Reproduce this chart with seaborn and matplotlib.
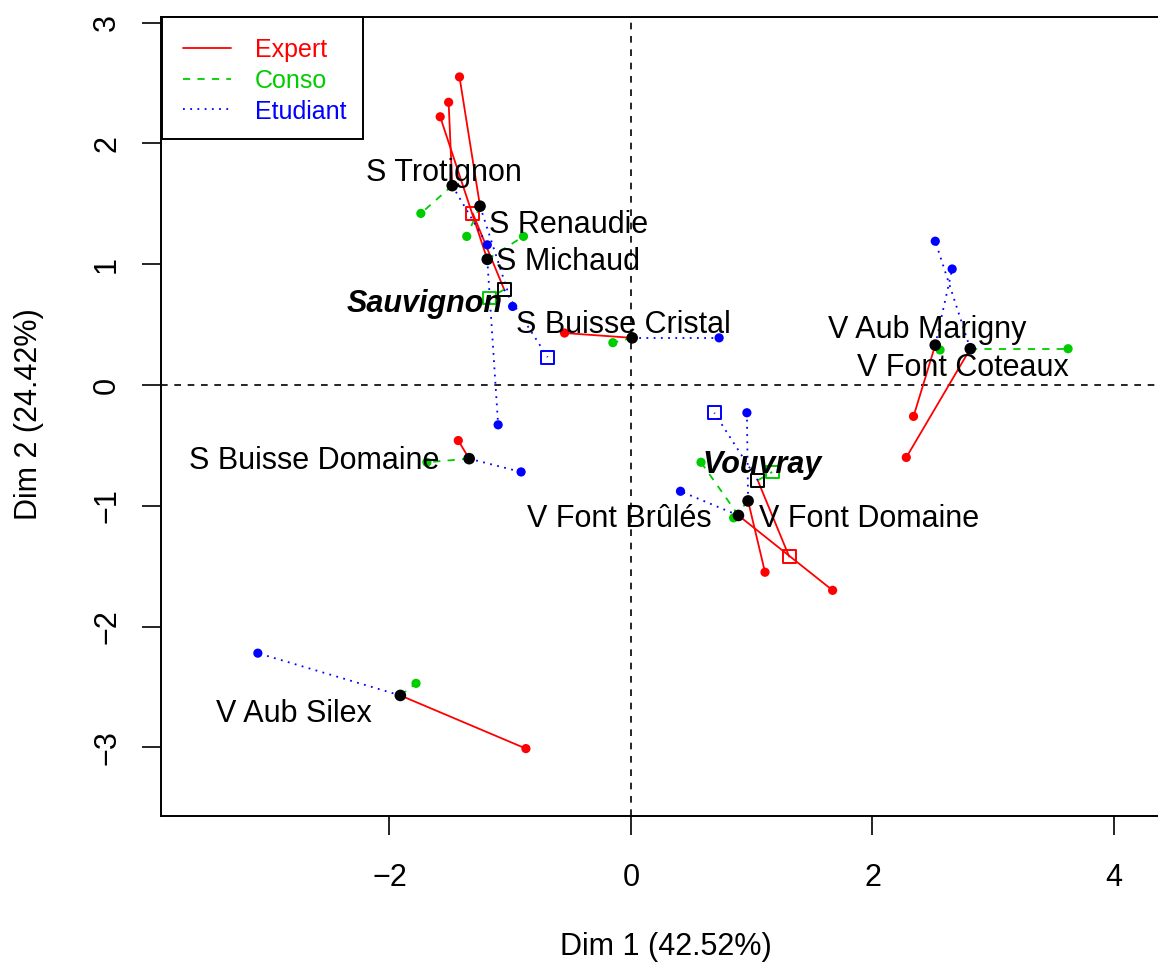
import numpy as np
import pandas as pd
import matplotlib
matplotlib.use("Agg")
import matplotlib.pyplot as plt
import seaborn as sns
from matplotlib.lines import Line2D
from matplotlib.patches import Rectangle

# ---------------- data ----------------
wines = ["S Michaud", "S Renaudie", "S Trotignon", "S Buisse Domaine", "S Buisse Cristal",
         "V Aub Silex", "V Aub Marigny", "V Font Domaine", "V Font Brûlés", "V Font Coteaux"]
mean_x = [-1.19, -1.25, -1.48, -1.34, 0.01, -1.91, 2.52, 0.97, 0.89, 2.81]
mean_y = [1.04, 1.48, 1.65, -0.61, 0.39, -2.57, 0.33, -0.96, -1.08, 0.30]

expert_x = [-1.58, -1.42, -1.51, -1.43, -0.55, -0.87, 2.34, 1.11, 1.67, 2.28]
expert_y = [2.22, 2.55, 2.34, -0.46, 0.43, -3.01, -0.26, -1.55, -1.70, -0.60]
conso_x = [-0.89, -1.36, -1.74, -1.69, -0.15, -1.78, 2.56, 0.85, 0.58, 3.62]
conso_y = [1.23, 1.23, 1.42, -0.64, 0.35, -2.47, 0.29, -1.10, -0.64, 0.30]
etud_x = [-1.10, -0.98, -1.19, -0.91, 0.73, -3.09, 2.66, 0.96, 0.41, 2.52]
etud_y = [-0.33, 0.65, 1.16, -0.72, 0.39, -2.22, 0.96, -0.23, -0.88, 1.19]

label_x = [-0.52, -0.52, -1.553, -2.62, -0.066, -2.79, 2.45, 1.97, -0.10, 2.745]
label_y = [0.95, 1.26, 1.69, -0.695, 0.43, -2.79, 0.39, -1.175, -1.175, 0.075]

cat_names = ["Sauvignon", "Vouvray"]
cat_x = [-1.05, 1.05]
cat_y = [0.79, -0.79]
cat_expert_x = [-1.31, 1.31]
cat_expert_y = [1.42, -1.42]
cat_conso_x = [-1.17, 1.17]
cat_conso_y = [0.72, -0.72]
cat_etud_x = [-0.69, 0.69]
cat_etud_y = [0.23, -0.23]
cat_label_x = [-1.706, 1.085]
cat_label_y = [0.60, -0.73]

groups = ["Expert", "Conso", "Etudiant"]
colors = {"Expert": "#FF0000", "Conso": "#00CD00", "Etudiant": "#0000FF"}
dash_map = {"Expert": "", "Conso": (4, 4), "Etudiant": (1, 3)}

x_ticks = [-2, 0, 2, 4]
y_ticks = [-3, -2, -1, 0, 1, 2, 3]
x_label = "Dim 1 (42.52%)"
y_label = "Dim 2 (24.42%)"

# ---------------- tables ----------------
part = {"Expert": (expert_x, expert_y), "Conso": (conso_x, conso_y), "Etudiant": (etud_x, etud_y)}
cat_part = {"Expert": (cat_expert_x, cat_expert_y), "Conso": (cat_conso_x, cat_conso_y),
            "Etudiant": (cat_etud_x, cat_etud_y)}

seg_rows = []
pts_rows = []
sq_rows = []
sid = 0
for g in groups:
    px_, py_ = part[g]
    for i, w in enumerate(wines):
        seg_rows.append({"seg": sid, "group": g, "x": mean_x[i], "y": mean_y[i]})
        seg_rows.append({"seg": sid, "group": g, "x": px_[i], "y": py_[i]})
        pts_rows.append({"group": g, "x": px_[i], "y": py_[i]})
        sid += 1
    cx, cy = cat_part[g]
    for j, c in enumerate(cat_names):
        seg_rows.append({"seg": sid, "group": g, "x": cat_x[j], "y": cat_y[j]})
        seg_rows.append({"seg": sid, "group": g, "x": cx[j], "y": cy[j]})
        sq_rows.append({"group": g, "x": cx[j], "y": cy[j]})
        sid += 1
seg = pd.DataFrame(seg_rows)
pts = pd.DataFrame(pts_rows)
sqs = pd.DataFrame(sq_rows)
means = pd.DataFrame({"x": mean_x, "y": mean_y, "wine": wines})
cats = pd.DataFrame({"x": cat_x, "y": cat_y, "name": cat_names})

# ---------------- figure ----------------
sns.set_theme(style="white")
plt.rcParams["font.family"] = ["Liberation Sans", "DejaVu Sans"]
plt.rcParams["text.color"] = "black"

W, H = 1158, 969
fig = plt.figure(figsize=(W / 100, H / 100), dpi=100)
ax = fig.add_axes([161 / W, 1 - 816 / H, (1170 - 161) / W, (816 - 17) / H])
ax.set_xlim(-3.892, 4.464)
ax.set_ylim(-3.568, 3.046)

ax.axhline(0, color="black", lw=1.2, ls=(0, (4, 4)), zorder=1)
ax.axvline(0, color="black", lw=1.2, ls=(0, (4, 4)), zorder=1)

sns.lineplot(data=seg, x="x", y="y", hue="group", style="group", units="seg",
             estimator=None, sort=False, palette=colors, dashes=dash_map,
             linewidth=1.3, legend=False, ax=ax, zorder=2)

sns.scatterplot(data=pts, x="x", y="y", hue="group", palette=colors, s=44,
                edgecolor="none", legend=False, ax=ax, zorder=3)

# open coloured squares (group centres seen by each panel)
n_before = len(ax.collections)
sns.scatterplot(data=sqs, x="x", y="y", hue="group", palette=colors, s=85, marker="s",
                linewidth=1.4, legend=False, ax=ax, zorder=3)
for coll in ax.collections[n_before:]:
    fc = coll.get_facecolors()
    coll.set_edgecolors(fc)
    coll.set_facecolors("none")

sns.scatterplot(data=means, x="x", y="y", color="black", s=70, edgecolor="none",
                legend=False, ax=ax, zorder=4)
n_before = len(ax.collections)
sns.scatterplot(data=cats, x="x", y="y", s=85, marker="s", color="black",
                linewidth=1.4, legend=False, ax=ax, zorder=4)
for coll in ax.collections[n_before:]:
    coll.set_edgecolors("black")
    coll.set_facecolors("none")

for i, w in enumerate(wines):
    ax.text(label_x[i], label_y[i], w, ha="center", va="baseline", fontsize=22,
            color="black", zorder=5)
for j, c in enumerate(cat_names):
    ax.text(cat_label_x[j], cat_label_y[j], c, ha="center", va="baseline", fontsize=22,
            fontweight="bold", fontstyle="italic", color="black", zorder=5)

ax.set_xticks(x_ticks)
ax.set_xticklabels([str(t).replace("-", "\u2212") for t in x_ticks], fontsize=22)
ax.set_yticks(y_ticks)
ax.set_yticklabels([str(t).replace("-", "\u2212") for t in y_ticks], fontsize=22,
                   rotation=90, va="center")
ax.tick_params(axis="both", which="both", bottom=True, left=True, length=14, width=1.2,
               color="black", labelcolor="black", direction="out")
ax.tick_params(axis="x", pad=20)
ax.tick_params(axis="y", pad=14)
ax.set_xlabel("")
ax.set_ylabel("")
for sp in ax.spines.values():
    sp.set_color("black")
    sp.set_linewidth(1.4)
    sp.set_visible(True)

fig.text(665.5 / W, 1 - 947 / H, x_label, ha="center", va="center", fontsize=22, color="black")
fig.text(29 / W, 1 - 414 / H, y_label, ha="center", va="center", fontsize=22, rotation=90,
         color="black")

# legend drawn in pixel coordinates
def fx(x):
    return x / W

def fy(y):
    return 1 - y / H

fig.patches.append(Rectangle((fx(162), fy(139)), fx(363) - fx(162), fy(17) - fy(139),
                             transform=fig.transFigure, facecolor="white",
                             edgecolor="black", linewidth=1.4, zorder=10))
leg_line_y = [48, 79, 109]
leg_base_y = [57, 88, 119]
for k, g in enumerate(groups):
    ls = "-" if g == "Expert" else (0, dash_map[g])
    fig.add_artist(Line2D([fx(183), fx(231)], [fy(leg_line_y[k])] * 2, color=colors[g],
                          lw=1.3, ls=ls, transform=fig.transFigure, zorder=11))
    fig.text(fx(255), fy(leg_base_y[k]), g, color=colors[g], fontsize=18,
             ha="left", va="baseline", zorder=11)

fig.savefig("out.png", dpi=100)
